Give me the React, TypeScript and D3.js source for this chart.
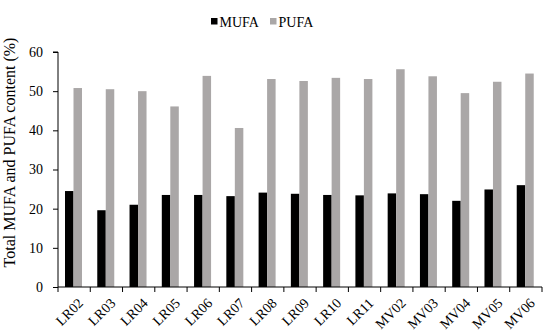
import React, { useEffect, useRef } from 'react'
import * as d3 from 'd3'

const categories = ['LR02', 'LR03', 'LR04', 'LR05', 'LR06', 'LR07', 'LR08', 'LR09', 'LR10', 'LR11', 'MV02', 'MV03', 'MV04', 'MV05', 'MV06']
const mufa = [24.5, 19.6, 21.0, 23.5, 23.5, 23.2, 24.1, 23.8, 23.5, 23.4, 23.9, 23.7, 22.0, 24.9, 26.0]
const pufa = [50.8, 50.5, 50.0, 46.1, 53.9, 40.6, 53.1, 52.6, 53.4, 53.1, 55.6, 53.8, 49.5, 52.4, 54.5]
const seriesNames = ['MUFA', 'PUFA']
const seriesColors = ['#000000', '#aaa7a7']
const yTicks = [0, 10, 20, 30, 40, 50, 60]

const W = 550
const H = 336
const margin = { top: 52, right: 8, bottom: 49, left: 58 }
const FONT = '"Liberation Serif", "Times New Roman", serif'

function App() {
    const ref = useRef<SVGSVGElement>(null)

    useEffect(() => {
        const svg = d3.select(ref.current)
        svg.selectAll('*').remove()
        const width = W - margin.left - margin.right
        const height = H - margin.top - margin.bottom

        const x = d3.scaleBand().domain(categories).range([0, width]).paddingInner(0).paddingOuter(0)
        const inner = d3.scaleBand().domain(seriesNames).range([7, 24])
        const y = d3.scaleLinear().domain([0, 60]).range([height, 0])

        const g = svg.append('g').attr('transform', `translate(${margin.left}, ${margin.top})`)

        // bars
        const rows = categories.map((c, i) => ({ c, vals: [mufa[i], pufa[i]] }))
        const groups = g.selectAll('g.cat').data(rows).enter().append('g')
            .attr('transform', d => `translate(${x(d.c)}, 0)`)
        groups.selectAll('rect')
            .data(d => d.vals.map((v, k) => ({ v, k })))
            .enter()
            .append('rect')
            .attr('x', d => inner(seriesNames[d.k]) as number)
            .attr('width', inner.bandwidth())
            .attr('y', d => y(d.v))
            .attr('height', d => height - y(d.v))
            .attr('fill', d => seriesColors[d.k])

        // y axis
        const yAxis = g.append('g').call(d3.axisLeft(y).tickValues(yTicks).tickSize(5).tickPadding(10))
        // x axis
        const xAxis = g.append('g').attr('transform', `translate(0, ${height})`)
        xAxis.append('line').attr('x1', 0).attr('x2', width).attr('stroke', '#000')
        const bounds = d3.range(categories.length + 1).map(i => i * x.step())
        xAxis.selectAll('line.tk').data(bounds).enter().append('line')
            .attr('x1', d => d).attr('x2', d => d).attr('y1', 0).attr('y2', 5).attr('stroke', '#000')
        xAxis.selectAll('text').data(categories).enter().append('text')
            .attr('transform', d => `translate(${(x(d) as number) + x.bandwidth() / 2 + 3}, 10) rotate(-45)`)
            .attr('text-anchor', 'end')
            .attr('dy', '0.7em')
            .style('font-family', FONT)
            .style('font-size', '14px')
            .text(d => d)

        yAxis.select('.domain').attr('d', `M-5,${y(60)}H0V${height}`)
        yAxis.selectAll('text').style('font-family', FONT).style('font-size', '14px').attr('fill', '#000')
        yAxis.selectAll('line').attr('stroke', '#000')

        // y title
        svg.append('text')
            .attr('transform', `translate(15, ${margin.top + height / 2 - 17}) rotate(-90)`)
            .attr('text-anchor', 'middle')
            .style('font-family', FONT)
            .style('font-size', '16px')
            .text('Total MUFA and PUFA content (%)')

        // legend
        const leg = svg.append('g').attr('transform', 'translate(211, 22)')
        const offsets = [0, 59]
        seriesNames.forEach((s, i) => {
            leg.append('rect').attr('x', offsets[i]).attr('y', -4).attr('width', 6.5).attr('height', 6.5).attr('fill', seriesColors[i])
            leg.append('text').attr('x', offsets[i] + 8.5).attr('y', 5)
                .style('font-family', FONT).style('font-size', '14px').text(s)
        })
    }, [])

    return (
        <svg ref={ref} width={W} height={H} style={{ display: 'block', position: 'absolute', left: 0, top: 0 }} />
    )
}

export default App
